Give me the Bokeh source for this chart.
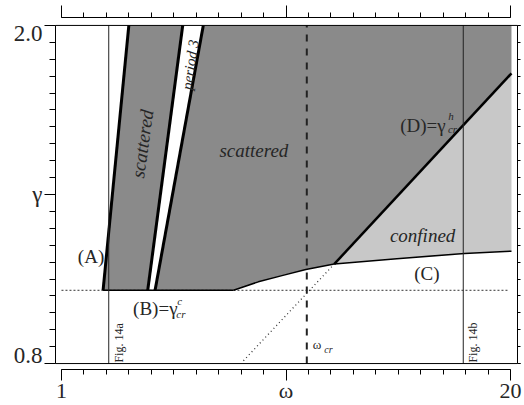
import math
from bokeh.plotting import figure
from bokeh.models import (Range1d, LinearAxis, FixedTicker, Span, Label,
                          CustomLabelingPolicy)
from bokeh.embed import file_html
from bokeh.resources import INLINE

# ---------------- data (omega, gamma) ----------------
x_major_ticks = [1, 10.5, 20]
x_tick_labels = ["1", "ω", "20"]
x_minor_ticks = [round(1 + 0.95 * k, 3) for k in range(21)]
y_major_ticks = [0.8, 1.4, 2.0]
y_tick_labels = ["0.8\n", "γ", "\n2.0"]
y_minor_ticks = [round(0.8 + 0.06 * k, 3) for k in range(21)]

gamma_c = 1.06          # level of (B)
gamma_top = 2.0
omega_edge = 20.04      # right end of computed region

line_a_omega = [2.76, 3.85]
line_a_gamma = [1.06, 2.0]
p3_left_omega = [4.65, 6.13]
p3_right_omega = [4.96, 7.00]
p3_gamma = [1.06, 2.0]
curve_omega = [8.28, 9.33, 10.37, 11.34, 12.54, 15.19, 18.05, 20.04]
curve_gamma = [1.060, 1.090, 1.113, 1.134, 1.153, 1.172, 1.191, 1.199]
line_d_omega = [12.54, 20.04]
line_d_gamma = [1.153, 1.83]
line_d_ext_omega = [8.70, 12.54]
line_d_ext_gamma = [0.81, 1.153]
dotted_omega = [1.0, 19.9]
fig14a_omega = 3.0
fig14b_omega = 18.0
omega_cr = 11.38
gamma_span = [0.8, 2.0]

SERIF = "Liberation Serif"
DARK = "#8a8a8a"
LIGHT = "#c8c8c8"
TXT = "#262626"

p = figure(width=524, height=405, title=None,
           x_range=Range1d(0.74724, 20.2949), y_range=Range1d(0.77889, 2.02815),
           x_axis_type=None, y_axis_type=None,
           output_backend="svg", toolbar_location=None,
           min_border_left=55, min_border_right=5, min_border_top=17, min_border_bottom=33)
p.outline_line_color = None
p.background_fill_color = "white"
p.border_fill_color = "white"

xt = FixedTicker(ticks=x_major_ticks, minor_ticks=x_minor_ticks)
yt = FixedTicker(ticks=y_major_ticks, minor_ticks=y_minor_ticks)


def make_axis(ticker, bounds, major_out, minor_out, labels=None, size="22px",
              standoff=0):
    ax = LinearAxis(ticker=ticker, bounds=bounds,
                    major_tick_out=major_out, major_tick_in=0,
                    minor_tick_out=minor_out, minor_tick_in=0,
                    major_label_standoff=standoff, axis_label_standoff=0,
                    major_label_text_font=SERIF, major_label_text_font_size=size,
                    major_label_text_color=TXT, major_label_text_line_height=0.62,
                    axis_line_color="black", axis_line_width=1,
                    major_tick_line_color="black", minor_tick_line_color="black")
    if labels is None:
        ax.major_label_policy = CustomLabelingPolicy(code="return []")
        ax.major_label_text_font_size = "1px"
    else:
        ax.major_label_overrides = labels
    return ax


xlabels = {float(v): t for v, t in zip(x_major_ticks, x_tick_labels)}
ylabels = {float(v): t for v, t in zip(y_major_ticks, y_tick_labels)}
xb = (x_major_ticks[0], x_major_ticks[-1])
yb = (y_major_ticks[0], y_major_ticks[-1])
p.add_layout(make_axis(xt, xb, 11, 5, xlabels, "22px", -3), "below")
p.add_layout(make_axis(xt, xb, 12, 5, standoff=1), "above")
p.add_layout(make_axis(yt, yb, 11, 6, ylabels, "23px", 2), "left")
p.add_layout(make_axis(yt, yb, 3, 3), "right")

p.add_layout(Span(location=gamma_span[0], dimension="width", line_color="black", line_width=1))
p.add_layout(Span(location=gamma_span[1], dimension="width", line_color="black", line_width=1))

# ---------------- regions ----------------
p.patch(line_a_omega + p3_left_omega[::-1], line_a_gamma + p3_gamma[::-1],
        fill_color=DARK, line_color=None)
reg_x = p3_right_omega + [omega_edge, omega_edge] + line_d_omega[::-1][1:] + curve_omega[:4][::-1]
reg_y = p3_gamma + [gamma_top, line_d_gamma[-1]] + line_d_gamma[::-1][1:] + curve_gamma[:4][::-1]
p.patch(reg_x, reg_y, fill_color=DARK, line_color=None)
conf_x = line_d_omega + curve_omega[4:][::-1]
conf_y = line_d_gamma + curve_gamma[4:][::-1]
p.patch(conf_x, conf_y, fill_color=LIGHT, line_color=None)

# ---------------- lines ----------------
p.line(dotted_omega, [gamma_c, gamma_c], line_color="#333333", line_width=1, line_dash="2 2")
p.line([line_a_omega[0], curve_omega[0]], [gamma_c, gamma_c], line_color="black", line_width=1.5)
p.line(curve_omega, curve_gamma, line_color="black", line_width=1.5)
p.line(line_d_ext_omega, line_d_ext_gamma, line_color="#333333", line_width=1.3, line_dash="1 3")
p.line(line_d_omega, line_d_gamma, line_color="black", line_width=2.5)
p.line(line_a_omega, line_a_gamma, line_color="black", line_width=3)
p.line(p3_left_omega, p3_gamma, line_color="black", line_width=3)
p.line(p3_right_omega, p3_gamma, line_color="black", line_width=3)
p.line([fig14a_omega, fig14a_omega], gamma_span, line_color="#222222", line_width=1)
p.line([fig14b_omega, fig14b_omega], gamma_span, line_color="#222222", line_width=1)
p.line([omega_cr, omega_cr], gamma_span, line_color="#222222", line_width=2, line_dash="7 7")

# ---------------- annotations ----------------
annots = [
    ("scattered", 4.42, 1.58, "19px", "italic", "center", "middle", 82),
    ("period 3", 6.45, 1.860, "15px", "italic", "center", "middle", 82),
    ("scattered", 9.14, 1.555, "19px", "italic", "center", "alphabetic", 0),
    ("confined", 16.28, 1.254, "19px", "italic", "center", "alphabetic", 0),
    ("(C)", 16.46, 1.120, "19px", "normal", "center", "alphabetic", 0),
    ("(A)", 2.25, 1.180, "19px", "normal", "center", "alphabetic", 0),
    ("(B)=γ", 4.03, 0.997, "19px", "normal", "left", "alphabetic", 0),
    ("c", 5.90, 1.022, "11px", "italic", "left", "alphabetic", 0),
    ("cr", 5.86, 0.976, "11px", "italic", "left", "alphabetic", 0),
    ("(D)=γ", 15.33, 1.645, "19px", "normal", "left", "alphabetic", 0),
    ("h", 17.36, 1.680, "11px", "italic", "left", "alphabetic", 0),
    ("cr", 17.35, 1.634, "11px", "italic", "left", "alphabetic", 0),
    ("ω", 11.63, 0.867, "13px", "normal", "left", "alphabetic", 0),
    ("cr", 12.12, 0.849, "10px", "italic", "left", "alphabetic", 0),
    ("Fig. 14a", 3.45, 0.8035, "12px", "normal", "left", "alphabetic", 90),
    ("Fig. 14b", 18.41, 0.8035, "12px", "normal", "left", "alphabetic", 90),
]
for t, xv, yv, fs, st, al, bl, ang in annots:
    p.add_layout(Label(x=xv, y=yv, text=t, text_font=SERIF, text_font_size=fs,
                       text_font_style=st, text_align=al, text_baseline=bl,
                       angle=math.radians(ang), text_color=TXT))

open("out.html", "w").write(file_html(p, INLINE))
